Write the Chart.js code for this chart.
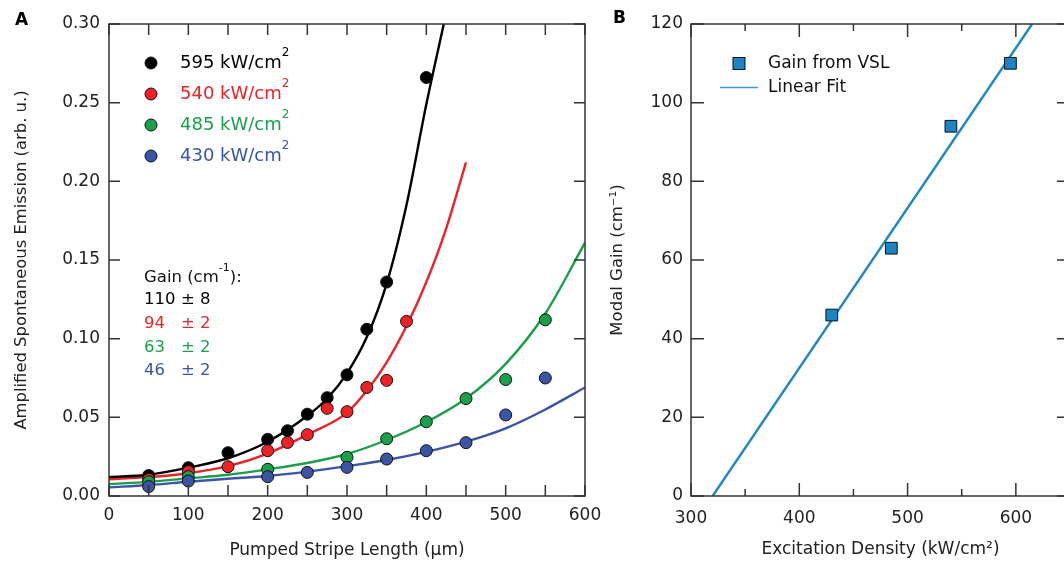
<!DOCTYPE html>
<html>
<head>
<meta charset="utf-8">
<script src="https://cdn.jsdelivr.net/npm/chart.js@4"></script>
<style>
  html, body { margin: 0; padding: 0; background: #fff; overflow: hidden; width: 1064px; height: 562px; }
  #chartA { position: absolute; left: 0; top: 0; }
  #chartB { position: absolute; left: 600px; top: 0; }
</style>
</head>
<body>
<canvas id="chartA" width="640" height="562"></canvas>
<canvas id="chartB" width="480" height="562"></canvas>
<script>
const FONT = '"DejaVu Sans", Verdana, sans-serif';
const black = '#000000', red = '#ec2227', green = '#1a9f4a', blue = '#3a55a5';

// ---- Panel A : ASE vs stripe length ----
const lenTicks = [0, 100, 200, 300, 400, 500, 600];
const lenMarks = [0, 50, 100, 150, 200, 250, 300, 350, 400, 450, 500, 550, 600];
const aseMarks = [0, 0.05, 0.10, 0.15, 0.20, 0.25, 0.30];

const densities = ['595', '540', '485', '430'];
const gains = ['110', '94', '63', '46'];
const gainErr = ['8', '2', '2', '2'];

const x595 = [50, 100, 150, 200, 225, 250, 275, 300, 325, 350, 400];
const y595 = [0.013, 0.018, 0.0275, 0.036, 0.0415, 0.052, 0.0625, 0.077, 0.106, 0.136, 0.266];
const x540 = [50, 100, 150, 200, 225, 250, 275, 300, 325, 350, 375];
const y540 = [0.0106, 0.0155, 0.0186, 0.0288, 0.034, 0.039, 0.0557, 0.0536, 0.069, 0.0735, 0.111];
const x485 = [50, 100, 200, 300, 350, 400, 450, 500, 550];
const y485 = [0.009, 0.0123, 0.017, 0.0246, 0.0364, 0.0472, 0.0619, 0.074, 0.112];
const x430 = [50, 100, 200, 250, 300, 350, 400, 450, 500, 550];
const y430 = [0.006, 0.0095, 0.0123, 0.015, 0.0182, 0.0235, 0.0288, 0.0339, 0.0515, 0.075];

// fit curves
const fx595 = [0, 50, 100, 150, 200, 250, 275, 300, 325, 350, 375, 400, 422];
const fy595 = [0.012, 0.0135, 0.018, 0.024, 0.0345, 0.051, 0.062, 0.078, 0.101, 0.135, 0.185, 0.249, 0.30];
const fx540 = [0, 50, 100, 150, 200, 250, 300, 325, 350, 375, 400, 425, 450];
const fy540 = [0.0106, 0.012, 0.0145, 0.019, 0.027, 0.039, 0.053, 0.067, 0.085, 0.108, 0.136, 0.170, 0.212];
const fx485 = [0, 50, 100, 150, 200, 250, 300, 350, 400, 450, 500, 550, 600];
const fy485 = [0.0076, 0.009, 0.0112, 0.0135, 0.017, 0.021, 0.0267, 0.0356, 0.047, 0.062, 0.084, 0.116, 0.161];
const fx430 = [0, 50, 100, 150, 200, 250, 300, 350, 400, 450, 500, 550, 600];
const fy430 = [0.0055, 0.007, 0.0091, 0.011, 0.0127, 0.0155, 0.019, 0.0229, 0.028, 0.0345, 0.043, 0.055, 0.069];

// ---- Panel B : gain vs excitation ----
const excTicks = [300, 400, 500, 600];
const excMinor = [350, 450, 550, 650];
const gainMarks = [0, 20, 40, 60, 80, 100, 120];
const excitation = [430, 485, 540, 595];
const modalGain = [46, 63, 94, 110];
const fitExc = [320, 615];
const fitGain = [0, 120];

const pts = (xs, ys) => xs.map((x, i) => ({ x: x, y: ys[i] }));

function dots(xs, ys, color, order) {
  return { data: pts(xs, ys), backgroundColor: color, borderColor: '#111', borderWidth: 1,
           pointRadius: 6, pointHoverRadius: 6, order: order };
}
function curve(xs, ys, color) {
  return { data: pts(xs, ys), showLine: true, borderColor: color, borderWidth: 2.4, pointRadius: 0,
           fill: false, cubicInterpolationMode: 'monotone', order: 10 };
}

// box + inward ticks on all four sides
const framePlugin = {
  id: 'frame',
  afterDatasetsDraw(chart, args, o) {
    const { ctx, chartArea: a } = chart;
    const sx = chart.scales.x, sy = chart.scales.y;
    ctx.save();
    ctx.strokeStyle = '#333';
    ctx.lineWidth = 1.5;
    ctx.strokeRect(a.left, a.top, a.right - a.left, a.bottom - a.top);
    ctx.beginPath();
    const xt = (vals, len) => vals.forEach(v => {
      const p = sx.getPixelForValue(v);
      ctx.moveTo(p, a.bottom); ctx.lineTo(p, a.bottom - len);
      ctx.moveTo(p, a.top); ctx.lineTo(p, a.top + len);
    });
    const yt = (vals, len) => vals.forEach(v => {
      const p = sy.getPixelForValue(v);
      ctx.moveTo(a.left, p); ctx.lineTo(a.left + len, p);
      ctx.moveTo(a.right, p); ctx.lineTo(a.right - len, p);
    });
    xt(o.xMajor, o.majorLen);
    if (o.xMinor) xt(o.xMinor, o.minorLen);
    yt(o.yMajor, o.majorLen);
    ctx.stroke();
    ctx.restore();
  }
};

function supText(ctx, base, sup, x, y, size, color) {
  ctx.fillStyle = color;
  ctx.font = size + 'px ' + FONT;
  ctx.fillText(base, x, y);
  const w = ctx.measureText(base).width;
  ctx.font = Math.round(size * 0.65) + 'px ' + FONT;
  ctx.fillText(sup, x + w, y - size * 0.58);
  return x + w + ctx.measureText(sup).width;
}

const legendA = {
  id: 'legendA',
  afterDraw(chart) {
    const ctx = chart.ctx;
    const cols = [black, red, green, blue];
    ctx.save();
    ctx.textBaseline = 'middle';
    ctx.textAlign = 'left';
    densities.forEach((d, i) => {
      const y = 63 + i * 31;
      ctx.beginPath();
      ctx.arc(151, y, 6, 0, Math.PI * 2);
      ctx.fillStyle = cols[i];
      ctx.fill();
      ctx.lineWidth = 1;
      ctx.strokeStyle = '#111';
      ctx.stroke();
      supText(ctx, d + ' kW/cm', '2', 180, y, 18, cols[i]);
    });
    const end = supText(ctx, 'Gain (cm', '-1', 144, 278, 16.5, '#111');
    ctx.font = '16.5px ' + FONT;
    ctx.fillText('):', end, 278);
    gains.forEach((g, i) => {
      const y = 300 + i * 23.7;
      ctx.fillStyle = cols[i];
      ctx.fillText(g, 144, y);
      ctx.fillText('\u00b1 ' + gainErr[i], 181, y);
    });
    ctx.font = 'bold 17px ' + FONT;
    ctx.fillStyle = '#000';
    ctx.fillText('A', 15, 21);
    ctx.restore();
  }
};

const legendB = {
  id: 'legendB',
  afterDraw(chart) {
    const ctx = chart.ctx;
    const ox = -600;
    ctx.save();
    ctx.textBaseline = 'middle';
    ctx.fillStyle = '#1b84c7';
    ctx.fillRect(733 + ox, 57.5, 12, 12);
    ctx.strokeStyle = '#111';
    ctx.lineWidth = 1;
    ctx.strokeRect(733 + ox, 57.5, 12, 12);
    ctx.beginPath();
    ctx.moveTo(720 + ox, 87.5);
    ctx.lineTo(758 + ox, 87.5);
    ctx.strokeStyle = '#3a9ad9';
    ctx.lineWidth = 1.5;
    ctx.stroke();
    ctx.fillStyle = '#111';
    ctx.font = '17px ' + FONT;
    ctx.fillText('Gain from VSL', 768 + ox, 63.5);
    ctx.fillText('Linear Fit', 768 + ox, 87.5);
    ctx.font = 'bold 17px ' + FONT;
    ctx.fillStyle = '#000';
    ctx.fillText('B', 13, 18.5);
    ctx.restore();
  }
};

const tickFont = { family: FONT, size: 17 };

new Chart(document.getElementById('chartA'), {
  type: 'scatter',
  data: {
    datasets: [
      dots(x595, y595, black, 4),
      dots(x540, y540, red, 3),
      dots(x485, y485, green, 2),
      dots(x430, y430, blue, 1),
      curve(fx595, fy595, black),
      curve(fx540, fy540, red),
      curve(fx485, fy485, green),
      curve(fx430, fy430, blue)
    ]
  },
  options: {
    responsive: false,
    animation: false,
    devicePixelRatio: 1,
    layout: { padding: { top: 24, right: 55, left: 0, bottom: 0 } },
    plugins: {
      legend: { display: false },
      tooltip: { enabled: false },
      frame: { xMajor: lenMarks, majorLen: 11, yMajor: aseMarks }
    },
    scales: {
      x: {
        type: 'linear', min: 0, max: 600,
        grid: { display: false, drawTicks: false },
        border: { display: false },
        afterBuildTicks: s => { s.ticks = lenTicks.map(v => ({ value: v })); },
        afterFit: s => { s.height = 66; },
        ticks: { font: tickFont, color: '#222', padding: 9, maxRotation: 0, autoSkip: false },
        title: { display: true, text: 'Pumped Stripe Length (\u03bcm)', color: '#222',
                 font: { family: FONT, size: 17 }, padding: { top: 0, bottom: 1 } }
      },
      y: {
        min: 0, max: 0.3,
        grid: { display: false, drawTicks: false },
        border: { display: false },
        afterBuildTicks: s => { s.ticks = aseMarks.map(v => ({ value: v })); },
        afterFit: s => { s.width = 109; },
        ticks: { font: tickFont, color: '#222', padding: 9, callback: v => v.toFixed(2) },
        title: { display: true, text: 'Amplified Spontaneous Emission (arb. u.)', color: '#222',
                 font: { family: FONT, size: 16.4 }, padding: { top: 12, bottom: 0 } }
      }
    }
  },
  plugins: [framePlugin, legendA]
});

new Chart(document.getElementById('chartB'), {
  type: 'scatter',
  data: {
    datasets: [
      { data: pts(excitation, modalGain), pointStyle: 'rect', pointRadius: 8.3, pointHoverRadius: 8.3,
        backgroundColor: '#1b84c7', borderColor: '#111', borderWidth: 1, order: 1 },
      { data: pts(fitExc, fitGain), showLine: true, pointRadius: 0, borderColor: '#1f87c9',
        borderWidth: 2.4, fill: false, order: 2 }
    ]
  },
  options: {
    responsive: false,
    animation: false,
    devicePixelRatio: 1,
    layout: { padding: { top: 24, right: 10, left: 0, bottom: 0 } },
    plugins: {
      legend: { display: false },
      tooltip: { enabled: false },
      frame: { xMajor: excTicks, xMinor: excMinor, majorLen: 13, minorLen: 7, yMajor: gainMarks }
    },
    scales: {
      x: {
        type: 'linear', min: 300, max: 650,
        grid: { display: false, drawTicks: false },
        border: { display: false },
        afterBuildTicks: s => { s.ticks = excTicks.map(v => ({ value: v })); },
        afterFit: s => { s.height = 66; },
        ticks: { font: tickFont, color: '#222', padding: 12, maxRotation: 0, autoSkip: false },
        title: { display: true, text: 'Excitation Density (kW/cm\u00b2)', color: '#222',
                 font: { family: FONT, size: 17 }, padding: { top: 0, bottom: 2 } }
      },
      y: {
        min: 0, max: 120,
        grid: { display: false, drawTicks: false },
        border: { display: false },
        afterBuildTicks: s => { s.ticks = gainMarks.map(v => ({ value: v })); },
        afterFit: s => { s.width = 91; },
        ticks: { font: tickFont, color: '#222', padding: 8 },
        title: { display: true, text: 'Modal Gain (cm\u207b\u00b9)', color: '#222',
                 font: { family: FONT, size: 16.5 }, padding: { top: 8, bottom: 0 } }
      }
    }
  },
  plugins: [framePlugin, legendB]
});
</script>
</body>
</html>
